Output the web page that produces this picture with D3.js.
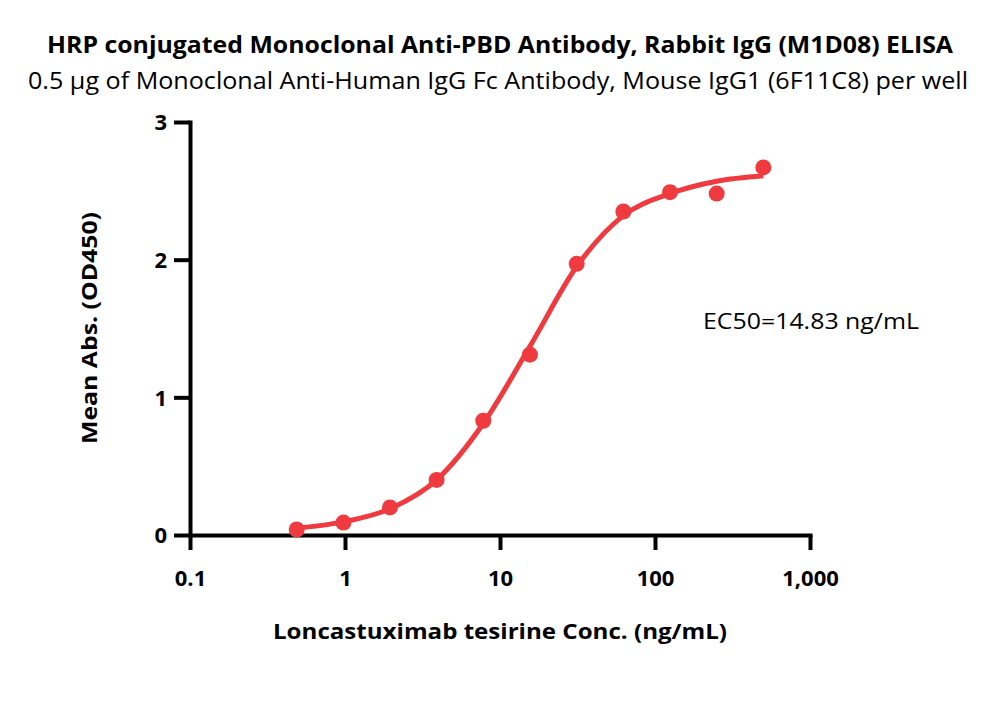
<!DOCTYPE html>
<html>
<head>
<meta charset="utf-8">
<script src="https://cdn.jsdelivr.net/npm/d3@7"></script>
<style>
  body { margin: 0; background: #fff; }
  svg { display: block; }
  text { font-family: "Open Sans", "DejaVu Sans", sans-serif; fill: #000; }
</style>
</head>
<body>
<svg id="chart" width="1000" height="711"></svg>
<script>
'use strict';

// measured points (ng/mL, OD450)
var conc = [0.488, 0.977, 1.95, 3.9, 7.8, 15.6, 31.25, 62.5, 125, 250, 500];
var od = [0.04, 0.09, 0.20, 0.40, 0.83, 1.31, 1.97, 2.35, 2.49, 2.48, 2.67];
// fitted curve at the same concentrations
var fitOd = [0.05, 0.095, 0.19, 0.40, 0.81, 1.37, 1.95, 2.32, 2.48, 2.57, 2.61];

var xTicks = [0.1, 1, 10, 100, 1000];
var yTicks = [0, 1, 2, 3];

var title = 'HRP conjugated Monoclonal Anti-PBD Antibody, Rabbit IgG (M1D08) ELISA';
var subtitle = '0.5 \u00b5g of Monoclonal Anti-Human IgG Fc Antibody, Mouse IgG1 (6F11C8) per well';
var xLabel = 'Loncastuximab tesirine Conc. (ng/mL)';
var yLabel = 'Mean Abs. (OD450)';
var ec50Label = 'EC50=14.83 ng/mL';

var red = '#ef3b3f';

var svg = d3.select('#chart');

var x = d3.scaleLog().domain([0.1, 1000]).range([190, 810]);
var y = d3.scaleLinear().domain([0, 3]).range([535, 122]);

// titles
svg.append('text')
  .attr('x', 500).attr('y', 53)
  .attr('text-anchor', 'middle')
  .attr('font-weight', 'bold')
  .attr('font-size', 23)
  .attr('textLength', 906)
  .attr('lengthAdjust', 'spacingAndGlyphs')
  .text(title);

svg.append('text')
  .attr('x', 498).attr('y', 89)
  .attr('text-anchor', 'middle')
  .attr('font-size', 23)
  .attr('textLength', 940)
  .attr('lengthAdjust', 'spacingAndGlyphs')
  .text(subtitle);

// axes
var xAxis = d3.axisBottom(x)
  .tickValues(xTicks)
  .tickSize(15)
  .tickSizeOuter(0)
  .tickFormat(function (d) { return d < 1 ? String(d) : d3.format(',')(d); });

var yAxis = d3.axisLeft(y)
  .tickValues(yTicks)
  .tickSize(16)
  .tickSizeOuter(0)
  .tickFormat(d3.format('d'));

var gx = svg.append('g')
  .attr('transform', 'translate(0,' + y(0) + ')')
  .call(xAxis);

var gy = svg.append('g')
  .attr('transform', 'translate(' + x(0.1) + ',0)')
  .call(yAxis);

[gx, gy].forEach(function (g) {
  g.select('.domain').attr('stroke', '#000').attr('stroke-width', 4).attr('stroke-linecap', 'square');
  g.selectAll('.tick line').attr('stroke', '#000').attr('stroke-width', 4);
  g.selectAll('.tick text')
    .attr('font-family', '"Open Sans", sans-serif')
    .attr('font-weight', 'bold')
    .attr('font-size', 22)
    .attr('fill', '#000');
});

gx.selectAll('.tick text').attr('y', 51).attr('dy', 0);
gy.selectAll('.tick text').attr('x', -23).attr('dy', '0.36em');

// axis titles
svg.append('text')
  .attr('x', 500).attr('y', 639)
  .attr('text-anchor', 'middle')
  .attr('font-weight', 'bold')
  .attr('font-size', 22)
  .attr('textLength', 454)
  .attr('lengthAdjust', 'spacingAndGlyphs')
  .text(xLabel);

svg.append('text')
  .attr('transform', 'translate(97,328) rotate(-90)')
  .attr('text-anchor', 'middle')
  .attr('font-weight', 'bold')
  .attr('font-size', 22)
  .attr('textLength', 232)
  .attr('lengthAdjust', 'spacingAndGlyphs')
  .text(yLabel);

// fitted curve
var line = d3.line()
  .x(function (d, i) { return x(conc[i]); })
  .y(function (d) { return y(d); })
  .curve(d3.curveMonotoneX);

svg.append('path')
  .datum(fitOd)
  .attr('d', line)
  .attr('fill', 'none')
  .attr('stroke', red)
  .attr('stroke-width', 5);

// points
svg.append('g').selectAll('circle')
  .data(od)
  .join('circle')
  .attr('cx', function (d, i) { return x(conc[i]); })
  .attr('cy', function (d) { return y(d); })
  .attr('r', 8)
  .attr('fill', red);

// EC50 annotation
svg.append('text')
  .attr('x', 703).attr('y', 329)
  .attr('font-size', 22)
  .attr('textLength', 216)
  .attr('lengthAdjust', 'spacingAndGlyphs')
  .text(ec50Label);
</script>
</body>
</html>
